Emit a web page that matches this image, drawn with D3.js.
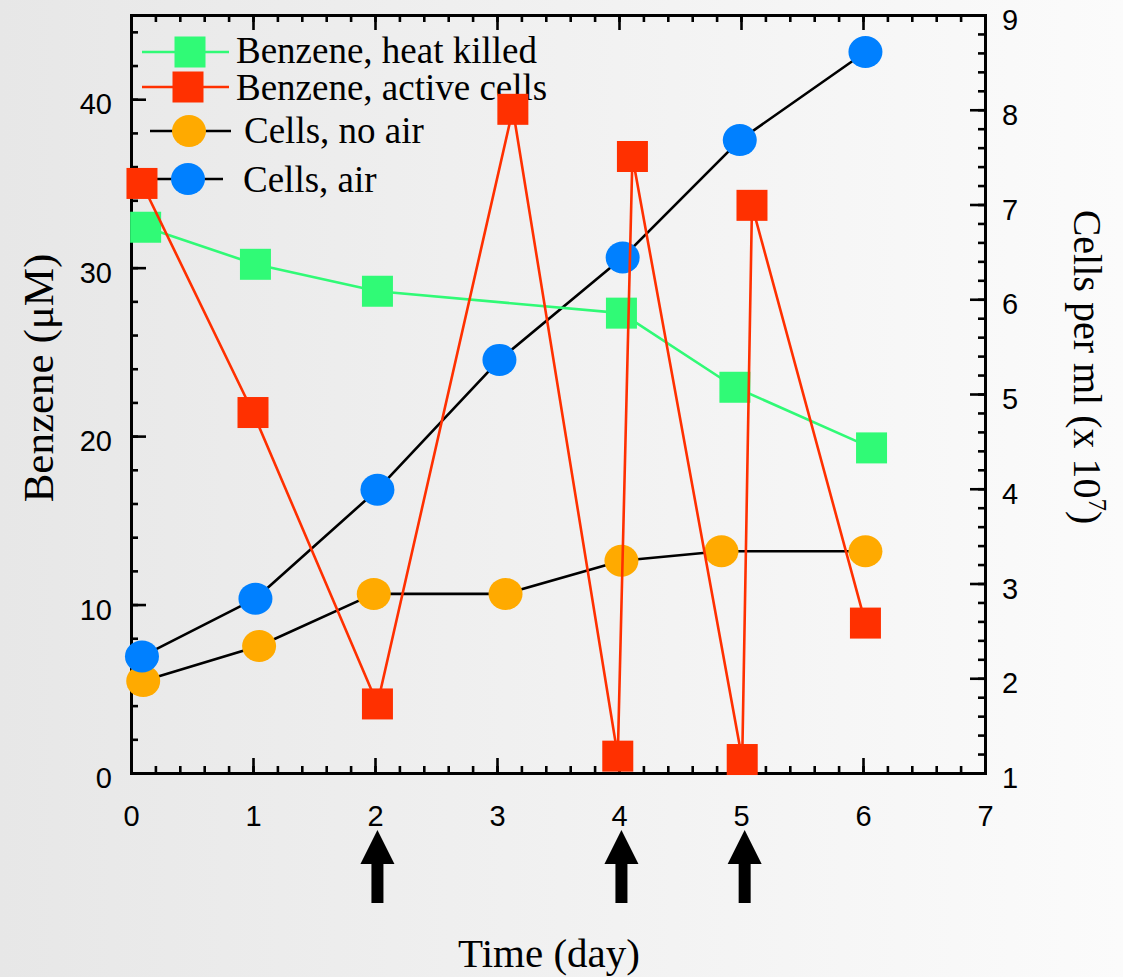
<!DOCTYPE html>
<html>
<head>
<meta charset="utf-8">
<script src="https://cdn.jsdelivr.net/npm/d3@7/dist/d3.min.js"></script>
<style>
  html, body { margin: 0; padding: 0; }
  svg { display: block; }
</style>
</head>
<body>
<svg id="chart" width="1123" height="977"></svg>
<script>
// ---- Data ----
const heatDays     = [0.12, 1.02, 2.02, 4.02, 4.95, 6.07];
const heatBenzene  = [32.4, 30.2, 28.6, 27.3, 22.9, 19.3];

const activeDays    = [0.09, 1.0, 2.02, 3.13, 3.99, 4.11, 5.01, 5.09, 6.02];
const activeBenzene = [35.0, 21.4, 4.1, 39.4, 1.0, 36.6, 0.8, 33.7, 8.9];

const noAirDays  = [0.10, 1.05, 1.99, 3.07, 4.02, 4.84, 6.02];
const noAirCells = [1.97, 2.34, 2.89, 2.89, 3.24, 3.34, 3.34];

const airDays  = [0.09, 1.02, 2.02, 3.02, 4.03, 4.99, 6.02];
const airCells = [2.23, 2.84, 3.99, 5.36, 6.44, 7.68, 8.61];

const xTicks      = [0, 1, 2, 3, 4, 5, 6, 7];
const leftTicks   = [0, 10, 20, 30, 40];
const rightTicks  = [1, 2, 3, 4, 5, 6, 7, 8, 9];
const arrowDays   = [2.02, 4.02, 5.03];

const legendLabels = ["Benzene, heat killed", "Benzene, active cells", "Cells, no air", "Cells, air"];

// ---- Setup ----
const svg = d3.select("#chart");
const W = 1123, H = 977;
const L = 131, R = 985, T = 15, B = 773;

const defs = svg.append("defs");
const grad = defs.append("linearGradient").attr("id", "bg").attr("x1", "0").attr("x2", "1").attr("y1", "0").attr("y2", "0");
grad.append("stop").attr("offset", "0%").attr("stop-color", "#e7e7e7");
grad.append("stop").attr("offset", "100%").attr("stop-color", "#fbfbfb");
svg.append("rect").attr("width", W).attr("height", H).attr("fill", "url(#bg)");

const x = d3.scaleLinear().domain([0, 7]).range([L, R]);
const yL = d3.scaleLinear().domain([0, 45]).range([B, T]);
const yR = d3.scaleLinear().domain([1, 9]).range([B, T]);

const sansFont = "'Liberation Sans', Arial, Helvetica, sans-serif";
const serifFont = "'Liberation Serif', 'Times New Roman', serif";

const GREEN = "#30fa76", RED = "#ff3000", ORANGE = "#ffaa00", BLUE = "#0080ff";

// ---- Axes ----
function styleAxis(g) {
  g.select(".domain").attr("stroke", "#000").attr("stroke-width", 3);
  g.selectAll(".tick line").attr("stroke", "#000").attr("stroke-width", 2.6);
  g.selectAll(".tick text").attr("font-family", sansFont).attr("font-size", 29).attr("fill", "#000");
}

const minorX = d3.range(0, 7.001, 0.2).map(v => +v.toFixed(2));
const minorL = d3.range(0, 45.001, 2);
const minorR = d3.range(1, 9.001, 0.2).map(v => +v.toFixed(2));

// minor ticks
svg.append("g").attr("transform", `translate(0,${B})`)
  .call(d3.axisBottom(x).tickValues(minorX).tickSize(-7).tickFormat(""))
  .call(styleAxis);
svg.append("g").attr("transform", `translate(0,${T})`)
  .call(d3.axisTop(x).tickValues(minorX).tickSize(-7).tickFormat(""))
  .call(styleAxis);
svg.append("g").attr("transform", `translate(${L},0)`)
  .call(d3.axisLeft(yL).tickValues(minorL).tickSize(-7).tickFormat(""))
  .call(styleAxis);
svg.append("g").attr("transform", `translate(${R},0)`)
  .call(d3.axisRight(yR).tickValues(minorR).tickSize(-7).tickFormat(""))
  .call(styleAxis);

// major ticks
svg.append("g").attr("transform", `translate(0,${B})`)
  .call(d3.axisBottom(x).tickValues(xTicks).tickSize(-15).tickPadding(32).tickFormat(d3.format("d")))
  .call(styleAxis);
svg.append("g").attr("transform", `translate(0,${T})`)
  .call(d3.axisTop(x).tickValues(xTicks).tickSize(-15).tickFormat(""))
  .call(styleAxis);
svg.append("g").attr("transform", `translate(${L},0)`)
  .call(d3.axisLeft(yL).tickValues(leftTicks).tickSize(-15).tickPadding(19).tickFormat(d3.format("d")))
  .call(styleAxis)
  .call(g => g.selectAll(".tick text").attr("dy", "0.5em"));
svg.append("g").attr("transform", `translate(${R},0)`)
  .call(d3.axisRight(yR).tickValues(rightTicks).tickSize(-15).tickPadding(17).tickFormat(d3.format("d")))
  .call(styleAxis)
  .call(g => g.selectAll(".tick text").attr("dy", "0.5em"));

// ---- Axis titles ----
svg.append("text")
  .attr("transform", `translate(53,378) rotate(-90)`)
  .attr("text-anchor", "middle")
  .attr("font-family", serifFont).attr("font-size", 43)
  .text("Benzene (\u03BCM)");

const rt = svg.append("text")
  .attr("transform", `translate(1074,367) rotate(90)`)
  .attr("text-anchor", "middle")
  .attr("font-family", serifFont).attr("font-size", 40);
rt.append("tspan").text("Cells per ml (x 10");
rt.append("tspan").attr("font-size", 25).attr("dy", -15).text("7");
rt.append("tspan").attr("dy", 15).text(")");

svg.append("text")
  .attr("x", 549).attr("y", 967)
  .attr("text-anchor", "middle")
  .attr("font-family", serifFont).attr("font-size", 41)
  .text("Time (day)");

// ---- Legend ----
const leg = svg.append("g");
const legRows = [
  {y: 52, color: GREEN, shape: "square", x1: 142, x2: 229, mx: 190, tx: 236, ty: 63, lineColor: GREEN},
  {y: 87, color: RED, shape: "square", x1: 142, x2: 229, mx: 188, tx: 236, ty: 100, lineColor: RED},
  {y: 131, color: ORANGE, shape: "circle", x1: 150, x2: 231, mx: 189, tx: 244, ty: 143, lineColor: "#000"},
  {y: 179, color: BLUE, shape: "circle", x1: 156, x2: 223, mx: 188, tx: 243, ty: 192, lineColor: "#000"}
];
legRows.forEach((r, i) => {
  leg.append("line").attr("x1", r.x1).attr("x2", r.x2).attr("y1", r.y).attr("y2", r.y)
    .attr("stroke", r.lineColor).attr("stroke-width", 2.6);
  if (r.shape === "square") {
    leg.append("rect").attr("x", r.mx - 15.5).attr("y", r.y - 15.5).attr("width", 31).attr("height", 31).attr("fill", r.color);
  } else {
    leg.append("ellipse").attr("cx", r.mx).attr("cy", r.y).attr("rx", 17).attr("ry", 16).attr("fill", r.color);
  }
  leg.append("text").attr("x", r.tx).attr("y", r.ty)
    .attr("font-family", serifFont).attr("font-size", 37).attr("fill", "#000")
    .text(legendLabels[i]);
});

// ---- Series ----
const line = d3.line();

function drawSeries(days, vals, yScale, lineColor, color, shape) {
  const pts = days.map((d, i) => [x(d), yScale(vals[i])]);
  svg.append("path").attr("d", line(pts)).attr("fill", "none")
    .attr("stroke", lineColor).attr("stroke-width", 2.6).attr("stroke-linejoin", "round");
  const g = svg.append("g");
  if (shape === "square") {
    g.selectAll("rect").data(pts).join("rect")
      .attr("x", p => p[0] - 15.5).attr("y", p => p[1] - 15.5)
      .attr("width", 31).attr("height", 31).attr("fill", color);
  } else {
    g.selectAll("ellipse").data(pts).join("ellipse")
      .attr("cx", p => p[0]).attr("cy", p => p[1])
      .attr("rx", 17).attr("ry", 16).attr("fill", color);
  }
}

drawSeries(noAirDays, noAirCells, yR, "#000", ORANGE, "circle");
drawSeries(airDays, airCells, yR, "#000", BLUE, "circle");
drawSeries(heatDays, heatBenzene, yL, GREEN, GREEN, "square");
drawSeries(activeDays, activeBenzene, yL, RED, RED, "square");

// ---- Arrows ----
const arrows = svg.append("g");
arrowDays.forEach(d => {
  const cx = x(d);
  const tip = 830, base = 864, bottom = 903;
  const pts = [
    [cx, tip], [cx + 17, base], [cx + 6, base], [cx + 6, bottom],
    [cx - 6, bottom], [cx - 6, base], [cx - 17, base]
  ];
  arrows.append("path").attr("d", d3.line()(pts) + "Z").attr("fill", "#000");
});
</script>
</body>
</html>
